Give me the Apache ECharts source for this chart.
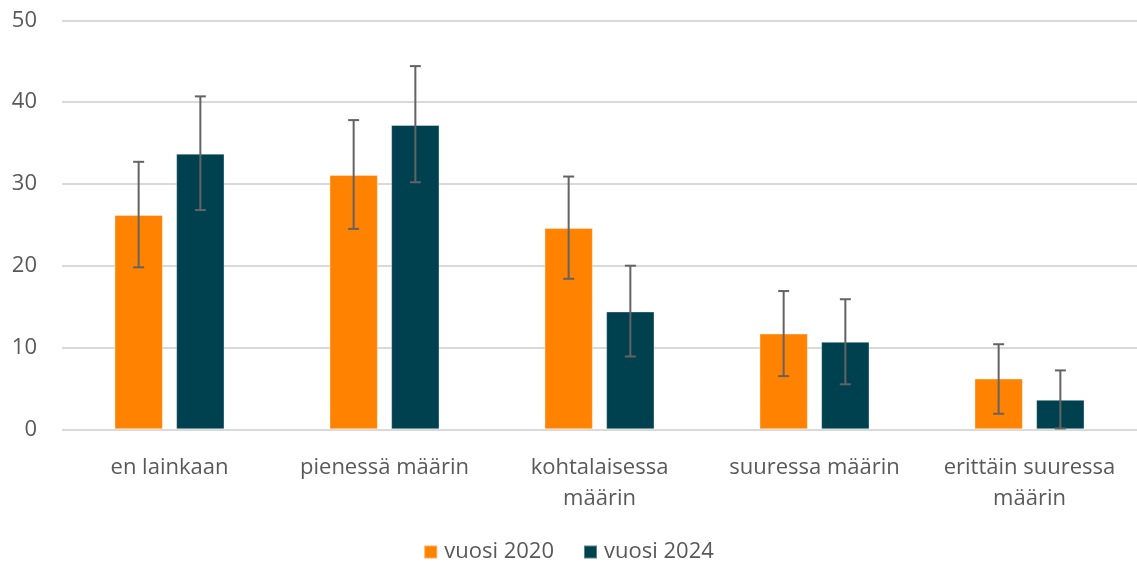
<!DOCTYPE html>
<html>
<head>
<meta charset="utf-8">
<script src="https://cdn.jsdelivr.net/npm/echarts@6/dist/echarts.min.js"></script>
<style>
html,body{margin:0;padding:0;background:#fff;}
#chart{width:1137px;height:565px;}
</style>
</head>
<body>
<div id="chart"></div>
<script>
const categories = ['en lainkaan', 'pienessä määrin', 'kohtalaisessa\nmäärin', 'suuressa määrin', 'erittäin suuressa\nmäärin'];
const seriesNames = ['vuosi 2020', 'vuosi 2024'];
const values2020 = [26.2, 31.1, 24.6, 11.7, 6.2];
const low2020 = [19.8, 24.5, 18.4, 6.5, 1.9];
const high2020 = [32.7, 37.8, 30.9, 16.9, 10.4];
const values2024 = [33.7, 37.2, 14.4, 10.7, 3.6];
const low2024 = [26.8, 30.2, 8.9, 5.5, 0.1];
const high2024 = [40.7, 44.4, 20.0, 15.9, 7.2];
const yTicks = [0, 10, 20, 30, 40, 50];

const colors = ['#FF8200', '#004150'];
const FONT = '"Open Sans", "Noto Sans", sans-serif';
const FS = 22;
const BAR_FRAC = 0.225;      // bar width relative to band
const OFFSET_FRAC = 0.1435;  // bar center offset relative to band

function errorSeries(idx, lows, highs) {
  const sign = idx === 0 ? -1 : 1;
  return {
    type: 'custom',
    name: seriesNames[idx] + ' err',
    z: 10,
    silent: true,
    data: categories.map((c, i) => [i, lows[i], highs[i]]),
    encode: { x: 0, y: [1, 2] },
    renderItem: function (params, api) {
      const band = api.size([1, 0])[0];
      const x = api.coord([api.value(0), 0])[0] + sign * band * OFFSET_FRAC;
      const yl = api.coord([api.value(0), api.value(1)])[1];
      const yh = api.coord([api.value(0), api.value(2)])[1];
      const cap = 5.5;
      const style = { stroke: '#636363', lineWidth: 2, fill: null };
      return {
        type: 'group',
        children: [
          { type: 'line', shape: { x1: x, y1: yl, x2: x, y2: yh }, style: style },
          { type: 'line', shape: { x1: x - cap, y1: yl, x2: x + cap, y2: yl }, style: style },
          { type: 'line', shape: { x1: x - cap, y1: yh, x2: x + cap, y2: yh }, style: style }
        ]
      };
    }
  };
}

const chart = echarts.init(document.getElementById('chart'), null, { renderer: 'canvas' });
chart.setOption({
  animation: false,
  color: colors,
  grid: { left: 62, right: 0, top: 20.3, bottom: 135.7, containLabel: false },
  legend: {
    data: seriesNames,
    top: 536,
    left: 'center',
    icon: 'rect',
    itemWidth: 13,
    itemHeight: 13,
    itemGap: 29,
    textStyle: { color: '#595959', fontSize: FS, fontFamily: FONT, padding: [0, 0, 0, 2] }
  },
  xAxis: {
    type: 'category',
    data: categories,
    axisLine: { show: false },
    axisTick: { show: false },
    axisLabel: { color: '#595959', fontSize: FS, fontFamily: FONT, margin: 23, lineHeight: 31, interval: 0 }
  },
  yAxis: {
    type: 'value',
    min: yTicks[0],
    max: yTicks[yTicks.length - 1],
    interval: 10,
    axisLine: { show: false },
    axisTick: { show: false },
    splitLine: { lineStyle: { color: '#D9D9D9', width: 2 } },
    axisLabel: { color: '#595959', fontSize: FS, fontFamily: FONT, margin: 25 }
  },
  series: [
    {
      type: 'bar', name: seriesNames[0], data: values2020,
      barWidth: (BAR_FRAC * 100) + '%', barGap: '27.5%',
      itemStyle: { color: colors[0], borderColor: 'rgba(255,255,255,0.35)', borderWidth: 1 }
    },
    {
      type: 'bar', name: seriesNames[1], data: values2024,
      barWidth: (BAR_FRAC * 100) + '%', barGap: '27.5%',
      itemStyle: { color: colors[1], borderColor: 'rgba(255,255,255,0.35)', borderWidth: 1 }
    },
    errorSeries(0, low2020, high2020),
    errorSeries(1, low2024, high2024)
  ]
});
</script>
</body>
</html>
